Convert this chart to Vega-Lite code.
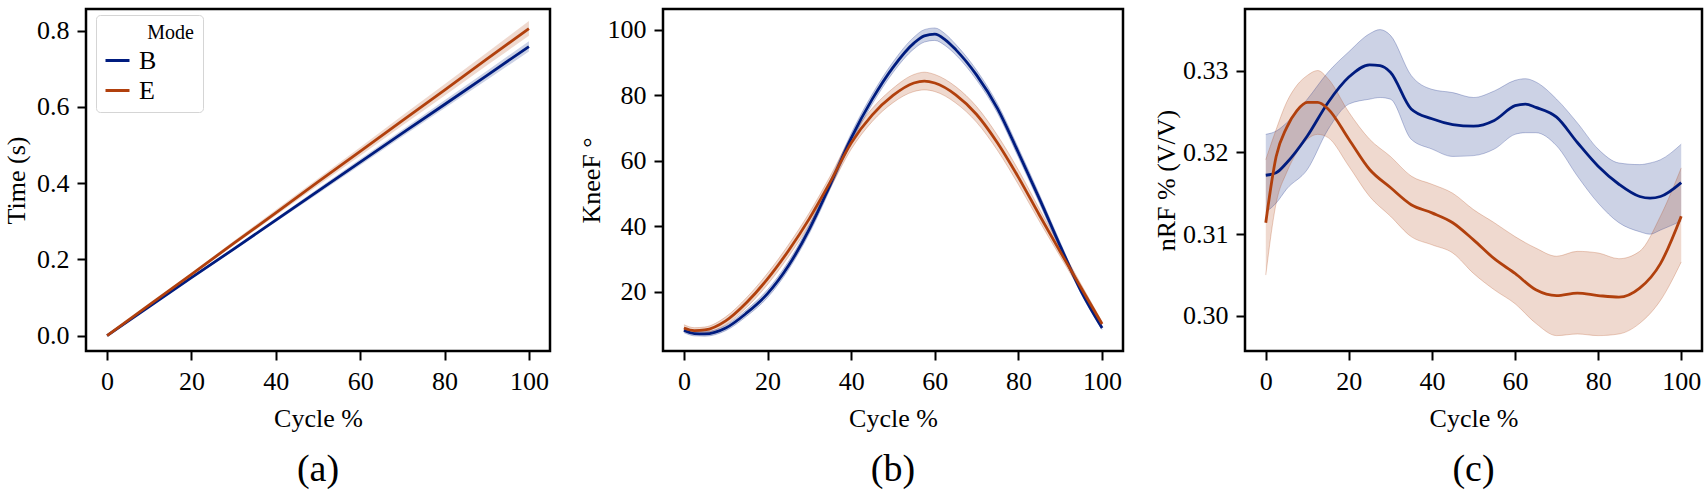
{
  "$schema": "https://vega.github.io/schema/vega-lite/v6.json",
  "background": "white",
  "padding": {"left": 2, "top": 7, "right": 0, "bottom": 0},
  "datasets": {
    "a": [
      {"mode": "B", "cycle": 0, "mean": 0, "lo": 0, "hi": 0},
      {"mode": "B", "cycle": 10, "mean": 0.076, "lo": 0.0746, "hi": 0.0774},
      {"mode": "B", "cycle": 20, "mean": 0.152, "lo": 0.149, "hi": 0.155},
      {"mode": "B", "cycle": 30, "mean": 0.227, "lo": 0.223, "hi": 0.231},
      {"mode": "B", "cycle": 40, "mean": 0.303, "lo": 0.298, "hi": 0.308},
      {"mode": "B", "cycle": 50, "mean": 0.379, "lo": 0.372, "hi": 0.386},
      {"mode": "B", "cycle": 60, "mean": 0.455, "lo": 0.447, "hi": 0.463},
      {"mode": "B", "cycle": 70, "mean": 0.531, "lo": 0.522, "hi": 0.540},
      {"mode": "B", "cycle": 80, "mean": 0.606, "lo": 0.596, "hi": 0.617},
      {"mode": "B", "cycle": 90, "mean": 0.682, "lo": 0.670, "hi": 0.694},
      {"mode": "B", "cycle": 100, "mean": 0.758, "lo": 0.745, "hi": 0.772},
      {"mode": "E", "cycle": 0, "mean": 0, "lo": 0, "hi": 0},
      {"mode": "E", "cycle": 10, "mean": 0.081, "lo": 0.079, "hi": 0.083},
      {"mode": "E", "cycle": 20, "mean": 0.161, "lo": 0.157, "hi": 0.165},
      {"mode": "E", "cycle": 30, "mean": 0.242, "lo": 0.237, "hi": 0.248},
      {"mode": "E", "cycle": 40, "mean": 0.322, "lo": 0.315, "hi": 0.330},
      {"mode": "E", "cycle": 50, "mean": 0.403, "lo": 0.394, "hi": 0.412},
      {"mode": "E", "cycle": 60, "mean": 0.483, "lo": 0.472, "hi": 0.494},
      {"mode": "E", "cycle": 70, "mean": 0.564, "lo": 0.551, "hi": 0.577},
      {"mode": "E", "cycle": 80, "mean": 0.644, "lo": 0.629, "hi": 0.659},
      {"mode": "E", "cycle": 90, "mean": 0.725, "lo": 0.708, "hi": 0.742},
      {"mode": "E", "cycle": 100, "mean": 0.805, "lo": 0.786, "hi": 0.825}
    ],
    "b": [
      {"mode": "B", "cycle": 0, "mean": 8.3, "lo": 7.6, "hi": 9.0},
      {"mode": "B", "cycle": 2.5, "mean": 7.3, "lo": 6.6, "hi": 8.0},
      {"mode": "B", "cycle": 5, "mean": 7.2, "lo": 6.5, "hi": 7.9},
      {"mode": "B", "cycle": 10, "mean": 9.0, "lo": 8.2, "hi": 9.8},
      {"mode": "B", "cycle": 15, "mean": 13.6, "lo": 12.6, "hi": 14.6},
      {"mode": "B", "cycle": 20, "mean": 19.5, "lo": 18.3, "hi": 20.7},
      {"mode": "B", "cycle": 25, "mean": 28.0, "lo": 26.8, "hi": 29.3},
      {"mode": "B", "cycle": 30, "mean": 39.2, "lo": 37.9, "hi": 40.5},
      {"mode": "B", "cycle": 35, "mean": 52.8, "lo": 51.5, "hi": 54.1},
      {"mode": "B", "cycle": 40, "mean": 67.0, "lo": 65.6, "hi": 68.4},
      {"mode": "B", "cycle": 45, "mean": 78.8, "lo": 77.3, "hi": 80.3},
      {"mode": "B", "cycle": 50, "mean": 88.6, "lo": 87.0, "hi": 90.2},
      {"mode": "B", "cycle": 55, "mean": 96.0, "lo": 94.2, "hi": 97.8},
      {"mode": "B", "cycle": 57.5, "mean": 98.2, "lo": 96.3, "hi": 100.1},
      {"mode": "B", "cycle": 60, "mean": 98.7, "lo": 96.8, "hi": 100.6},
      {"mode": "B", "cycle": 62.5, "mean": 97.0, "lo": 95.2, "hi": 98.8},
      {"mode": "B", "cycle": 65, "mean": 94.0, "lo": 92.4, "hi": 95.6},
      {"mode": "B", "cycle": 70, "mean": 86.2, "lo": 84.7, "hi": 87.7},
      {"mode": "B", "cycle": 75, "mean": 76.0, "lo": 74.6, "hi": 77.4},
      {"mode": "B", "cycle": 80, "mean": 62.5, "lo": 61.1, "hi": 63.9},
      {"mode": "B", "cycle": 85, "mean": 48.5, "lo": 47.2, "hi": 49.8},
      {"mode": "B", "cycle": 90, "mean": 34.0, "lo": 32.9, "hi": 35.1},
      {"mode": "B", "cycle": 95, "mean": 20.2, "lo": 19.4, "hi": 21.0},
      {"mode": "B", "cycle": 100, "mean": 9.0, "lo": 8.5, "hi": 9.5},
      {"mode": "E", "cycle": 0, "mean": 9.0, "lo": 8.0, "hi": 10.0},
      {"mode": "E", "cycle": 2.5, "mean": 8.2, "lo": 7.3, "hi": 9.1},
      {"mode": "E", "cycle": 5, "mean": 8.4, "lo": 7.5, "hi": 9.3},
      {"mode": "E", "cycle": 10, "mean": 11.2, "lo": 10.0, "hi": 12.4},
      {"mode": "E", "cycle": 15, "mean": 16.8, "lo": 15.3, "hi": 18.3},
      {"mode": "E", "cycle": 20, "mean": 24.0, "lo": 22.3, "hi": 25.7},
      {"mode": "E", "cycle": 25, "mean": 32.6, "lo": 30.8, "hi": 34.4},
      {"mode": "E", "cycle": 30, "mean": 42.4, "lo": 40.6, "hi": 44.2},
      {"mode": "E", "cycle": 35, "mean": 53.6, "lo": 51.8, "hi": 55.4},
      {"mode": "E", "cycle": 40, "mean": 65.5, "lo": 63.6, "hi": 67.4},
      {"mode": "E", "cycle": 45, "mean": 74.0, "lo": 72.0, "hi": 76.0},
      {"mode": "E", "cycle": 50, "mean": 80.0, "lo": 77.8, "hi": 82.2},
      {"mode": "E", "cycle": 55, "mean": 83.8, "lo": 81.2, "hi": 86.4},
      {"mode": "E", "cycle": 57.5, "mean": 84.4, "lo": 81.7, "hi": 87.1},
      {"mode": "E", "cycle": 60, "mean": 83.8, "lo": 81.2, "hi": 86.4},
      {"mode": "E", "cycle": 65, "mean": 80.2, "lo": 77.7, "hi": 82.7},
      {"mode": "E", "cycle": 70, "mean": 74.2, "lo": 71.8, "hi": 76.6},
      {"mode": "E", "cycle": 75, "mean": 65.5, "lo": 63.2, "hi": 67.8},
      {"mode": "E", "cycle": 80, "mean": 55.0, "lo": 52.8, "hi": 57.2},
      {"mode": "E", "cycle": 85, "mean": 43.5, "lo": 41.6, "hi": 45.4},
      {"mode": "E", "cycle": 90, "mean": 32.3, "lo": 30.8, "hi": 33.8},
      {"mode": "E", "cycle": 95, "mean": 21.2, "lo": 20.1, "hi": 22.3},
      {"mode": "E", "cycle": 100, "mean": 10.2, "lo": 9.5, "hi": 10.9}
    ],
    "c": [
      {"mode": "B", "cycle": 0, "mean": 0.3172, "lo": 0.3127, "hi": 0.3222},
      {"mode": "B", "cycle": 2.5, "mean": 0.3175, "lo": 0.3138, "hi": 0.3226},
      {"mode": "B", "cycle": 5, "mean": 0.3187, "lo": 0.3155, "hi": 0.3236},
      {"mode": "B", "cycle": 10, "mean": 0.3220, "lo": 0.3179, "hi": 0.3265},
      {"mode": "B", "cycle": 15, "mean": 0.3261, "lo": 0.3228, "hi": 0.3298},
      {"mode": "B", "cycle": 20, "mean": 0.3292, "lo": 0.3259, "hi": 0.3323},
      {"mode": "B", "cycle": 25, "mean": 0.3307, "lo": 0.3265, "hi": 0.3345},
      {"mode": "B", "cycle": 27.5, "mean": 0.3306, "lo": 0.3267, "hi": 0.3350},
      {"mode": "B", "cycle": 30, "mean": 0.3298, "lo": 0.3265, "hi": 0.3343},
      {"mode": "B", "cycle": 35, "mean": 0.3253, "lo": 0.3216, "hi": 0.3294},
      {"mode": "B", "cycle": 40, "mean": 0.3241, "lo": 0.3204, "hi": 0.3277},
      {"mode": "B", "cycle": 45, "mean": 0.3234, "lo": 0.3195, "hi": 0.3273},
      {"mode": "B", "cycle": 50, "mean": 0.3232, "lo": 0.3196, "hi": 0.3267},
      {"mode": "B", "cycle": 55, "mean": 0.3239, "lo": 0.3204, "hi": 0.3275},
      {"mode": "B", "cycle": 60, "mean": 0.3257, "lo": 0.3222, "hi": 0.3288},
      {"mode": "B", "cycle": 62.5, "mean": 0.3259, "lo": 0.3224, "hi": 0.3290},
      {"mode": "B", "cycle": 65, "mean": 0.3255, "lo": 0.3224, "hi": 0.3286},
      {"mode": "B", "cycle": 70, "mean": 0.3243, "lo": 0.3208, "hi": 0.3265},
      {"mode": "B", "cycle": 75, "mean": 0.3212, "lo": 0.3171, "hi": 0.3236},
      {"mode": "B", "cycle": 80, "mean": 0.3183, "lo": 0.3138, "hi": 0.3204},
      {"mode": "B", "cycle": 85, "mean": 0.3161, "lo": 0.3114, "hi": 0.3187},
      {"mode": "B", "cycle": 90, "mean": 0.3146, "lo": 0.3103, "hi": 0.3185},
      {"mode": "B", "cycle": 92.5, "mean": 0.3144, "lo": 0.3100, "hi": 0.3187},
      {"mode": "B", "cycle": 95, "mean": 0.3146, "lo": 0.3105, "hi": 0.3191},
      {"mode": "B", "cycle": 100, "mean": 0.3163, "lo": 0.3116, "hi": 0.3210},
      {"mode": "E", "cycle": 0, "mean": 0.3114, "lo": 0.3050, "hi": 0.3191},
      {"mode": "E", "cycle": 2.5, "mean": 0.3195, "lo": 0.3138, "hi": 0.3228},
      {"mode": "E", "cycle": 5, "mean": 0.3230, "lo": 0.3175, "hi": 0.3261},
      {"mode": "E", "cycle": 7.5, "mean": 0.3251, "lo": 0.3200, "hi": 0.3282},
      {"mode": "E", "cycle": 10, "mean": 0.3261, "lo": 0.3216, "hi": 0.3294},
      {"mode": "E", "cycle": 12.5, "mean": 0.3261, "lo": 0.3222, "hi": 0.3300},
      {"mode": "E", "cycle": 15, "mean": 0.3253, "lo": 0.3218, "hi": 0.3290},
      {"mode": "E", "cycle": 20, "mean": 0.3216, "lo": 0.3183, "hi": 0.3249},
      {"mode": "E", "cycle": 25, "mean": 0.3179, "lo": 0.3146, "hi": 0.3216},
      {"mode": "E", "cycle": 30, "mean": 0.3157, "lo": 0.3122, "hi": 0.3195},
      {"mode": "E", "cycle": 35, "mean": 0.3136, "lo": 0.3097, "hi": 0.3171},
      {"mode": "E", "cycle": 40, "mean": 0.3126, "lo": 0.3087, "hi": 0.3161},
      {"mode": "E", "cycle": 45, "mean": 0.3114, "lo": 0.3077, "hi": 0.3150},
      {"mode": "E", "cycle": 50, "mean": 0.3093, "lo": 0.3052, "hi": 0.3130},
      {"mode": "E", "cycle": 55, "mean": 0.3070, "lo": 0.3032, "hi": 0.3114},
      {"mode": "E", "cycle": 60, "mean": 0.3052, "lo": 0.3015, "hi": 0.3097},
      {"mode": "E", "cycle": 65, "mean": 0.3032, "lo": 0.2991, "hi": 0.3083},
      {"mode": "E", "cycle": 70, "mean": 0.3025, "lo": 0.2976, "hi": 0.3073},
      {"mode": "E", "cycle": 75, "mean": 0.3028, "lo": 0.2978, "hi": 0.3079},
      {"mode": "E", "cycle": 80, "mean": 0.3025, "lo": 0.2976, "hi": 0.3077},
      {"mode": "E", "cycle": 85, "mean": 0.3023, "lo": 0.2978, "hi": 0.3070},
      {"mode": "E", "cycle": 90, "mean": 0.3034, "lo": 0.2991, "hi": 0.3079},
      {"mode": "E", "cycle": 95, "mean": 0.3064, "lo": 0.3019, "hi": 0.3122},
      {"mode": "E", "cycle": 100, "mean": 0.3122, "lo": 0.3066, "hi": 0.3181}
    ]
  },
  "spacing": 113,
  "bounds": "flush",
  "resolve": {"scale": {"color": "independent"}},
  "hconcat": [
    {
      "width": 464, "height": 342,
      "title": {"text": "(a)", "frame": "group"},
      "data": {"name": "a"},
      "encoding": {
        "x": {"field": "cycle", "type": "quantitative", "scale": {"domain": [-5, 105], "nice": false, "zero": false},
              "axis": {"title": "Cycle %", "values": [0, 20, 40, 60, 80, 100]}},
        "color": {"field": "mode", "type": "nominal", "scale": {"domain": ["B", "E"], "range": ["#001c7f", "#b1400d"]},
          "legend": {"title": "Mode", "orient": "none", "legendX": 10, "legendY": 6, "direction": "vertical",
            "labelExpr": "datum.label + '\u2800\u2800'"}}
      },
      "layer": [
        {
          "mark": {"type": "area", "opacity": 0.2},
          "encoding": {
            "y": {"field": "lo", "type": "quantitative", "scale": {"domain": [-0.0401, 0.8564], "nice": false, "zero": false},
                  "axis": {"title": "Time (s)", "values": [0, 0.2, 0.4, 0.6, 0.8], "format": ".1f", "titlePadding": 7}},
            "y2": {"field": "hi"}
          }
        },
        {
          "mark": {"type": "line", "strokeWidth": 2.8},
          "encoding": {
            "y": {"field": "mean", "type": "quantitative", "title": "Time (s)"}
          }
        }
      ]
    },
    {
      "spacing": 122,
      "bounds": "flush",
      "resolve": {"scale": {"color": "independent"}},
      "hconcat": [
        {
          "width": 460, "height": 342,
          "title": {"text": "(b)", "frame": "group"},
          "data": {"name": "b"},
          "encoding": {
            "x": {"field": "cycle", "type": "quantitative", "scale": {"domain": [-5, 105], "nice": false, "zero": false},
                  "axis": {"title": "Cycle %", "values": [0, 20, 40, 60, 80, 100]}},
            "color": {"field": "mode", "type": "nominal", "scale": {"domain": ["B", "E"], "range": ["#001c7f", "#b1400d"]}, "legend": null}
          },
          "layer": [
            {
              "mark": {"type": "area", "opacity": 0.2, "interpolate": "monotone"},
              "encoding": {
                "y": {"field": "lo", "type": "quantitative", "scale": {"domain": [1.98, 106.4], "nice": false, "zero": false},
                      "axis": {"title": "KneeF °", "values": [20, 40, 60, 80, 100], "titlePadding": 3}},
                "y2": {"field": "hi"}
              }
            },
            {
              "mark": {"type": "line", "strokeWidth": 1, "opacity": 0.25, "interpolate": "monotone"},
              "encoding": {"y": {"field": "lo", "type": "quantitative", "title": "KneeF °"}}
            },
            {
              "mark": {"type": "line", "strokeWidth": 1, "opacity": 0.25, "interpolate": "monotone"},
              "encoding": {"y": {"field": "hi", "type": "quantitative", "title": "KneeF °"}}
            },
            {
              "mark": {"type": "line", "strokeWidth": 2.8, "interpolate": "monotone"},
              "encoding": {"y": {"field": "mean", "type": "quantitative", "title": "KneeF °"}}
            }
          ]
        },
        {
          "width": 457, "height": 342,
          "title": {"text": "(c)", "frame": "group"},
          "data": {"name": "c"},
          "encoding": {
            "x": {"field": "cycle", "type": "quantitative", "scale": {"domain": [-5, 105], "nice": false, "zero": false},
                  "axis": {"title": "Cycle %", "values": [0, 20, 40, 60, 80, 100]}},
            "color": {"field": "mode", "type": "nominal", "scale": {"domain": ["B", "E"], "range": ["#001c7f", "#b1400d"]}, "legend": null}
          },
          "layer": [
            {
              "mark": {"type": "area", "opacity": 0.2, "interpolate": "monotone"},
              "encoding": {
                "y": {"field": "lo", "type": "quantitative", "scale": {"domain": [0.29572, 0.33752], "nice": false, "zero": false},
                      "axis": {"title": "nRF % (V/V)", "values": [0.30, 0.31, 0.32, 0.33], "format": ".2f", "titlePadding": 3}},
                "y2": {"field": "hi"}
              }
            },
            {
              "mark": {"type": "line", "strokeWidth": 1, "opacity": 0.25, "interpolate": "monotone"},
              "encoding": {"y": {"field": "lo", "type": "quantitative", "title": "nRF % (V/V)"}}
            },
            {
              "mark": {"type": "line", "strokeWidth": 1, "opacity": 0.25, "interpolate": "monotone"},
              "encoding": {"y": {"field": "hi", "type": "quantitative", "title": "nRF % (V/V)"}}
            },
            {
              "mark": {"type": "line", "strokeWidth": 2.8, "interpolate": "monotone"},
              "encoding": {"y": {"field": "mean", "type": "quantitative", "title": "nRF % (V/V)"}}
            }
          ]
        }
      ]
    }
  ],
  "config": {
    "font": "Liberation Serif",
    "view": {"stroke": "black", "strokeWidth": 2.5},
    "axis": {
      "domain": false, "grid": false,
      "labelFont": "Liberation Serif", "labelFontSize": 26, "labelColor": "black",
      "titleFont": "Liberation Serif", "titleFontSize": 26, "titleFontWeight": "normal", "titleColor": "black",
      "tickColor": "black", "tickSize": 9, "tickWidth": 2, "labelPadding": 8, "titlePadding": 11
    },
    "legend": {
      "titleFontSize": 20, "titleFont": "Liberation Serif", "titleFontWeight": "normal", "titleAnchor": "end", "titleColor": "black",
      "labelFontSize": 26, "labelFont": "Liberation Serif", "labelColor": "black", "labelLimit": 300,
      "symbolType": "stroke", "symbolStrokeWidth": 3, "symbolSize": 576, "symbolOpacity": 1, "labelOffset": 8, "rowPadding": 3,
      "padding": 8, "fillColor": "white", "strokeColor": "#d5d5d5", "cornerRadius": 4, "titlePadding": 4
    },
    "title": {"font": "Liberation Serif", "fontSize": 38, "fontWeight": "normal", "color": "black", "orient": "bottom", "anchor": "middle", "offset": 20}
  }
}
